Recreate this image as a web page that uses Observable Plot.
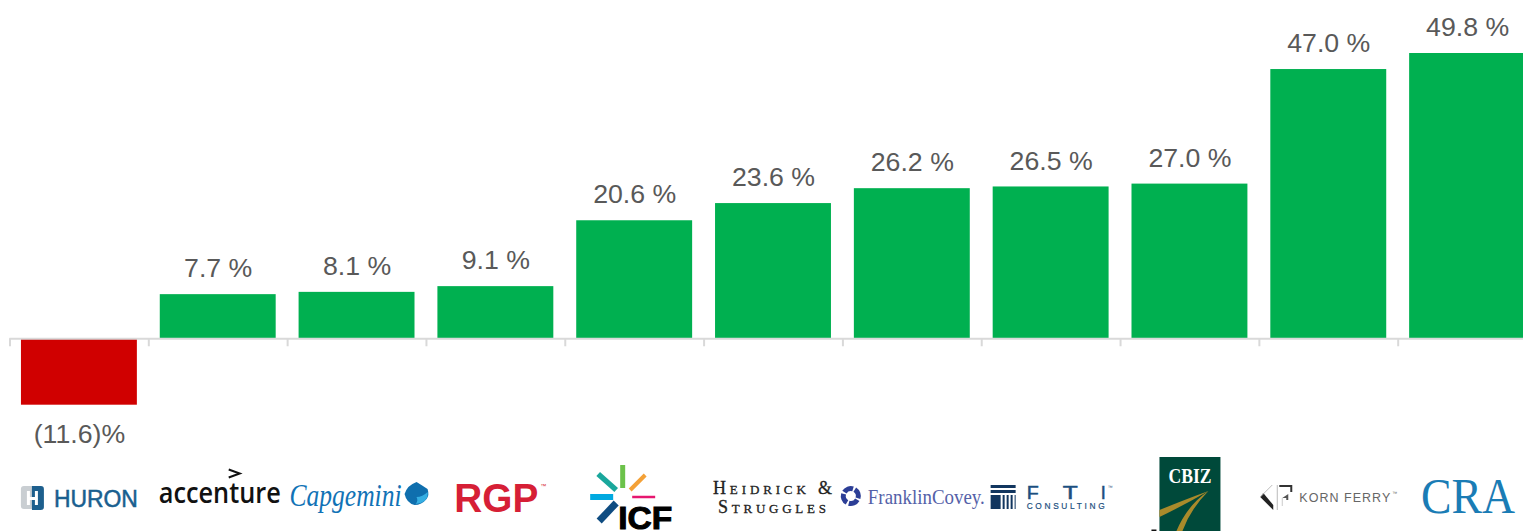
<!DOCTYPE html>
<html>
<head>
<meta charset="utf-8">
<title>Company growth comparison</title>
<script src="https://cdn.jsdelivr.net/npm/d3@7"></script>
<script src="https://cdn.jsdelivr.net/npm/@observablehq/plot@0.6"></script>
<style>
  html, body { margin: 0; padding: 0; background: #fff; overflow: hidden; }
  svg { display: block; }
</style>
</head>
<body>
<div id="chart"></div>
<script>
const companies = ["Huron", "Accenture", "Capgemini", "RGP", "ICF", "Heidrick & Struggles",
  "FranklinCovey", "FTI Consulting", "CBIZ", "Korn Ferry", "CRA"];
const growth = [-11.6, 7.7, 8.1, 9.1, 20.6, 23.6, 26.2, 26.5, 27.0, 47.0, 49.8];

const rows = companies.map((company, i) => ({company, value: growth[i]}));
const formatValue = v => v < 0 ? `(${Math.abs(v).toFixed(1)})%` : `${v.toFixed(1)} %`;

const W = 1523, H = 531;
const xRange = [9.5, 1536.5];
const slot = (xRange[1] - xRange[0]) / companies.length;
const axisColor = "#d9d9d9";
const labelSize = 26.7;
const SANS = "Liberation Sans, Arial, sans-serif";
const SERIF = "Liberation Serif, Times New Roman, serif";

// Small drawing helpers for the company wordmarks under the axis.
function word(g, str, x, y, size, fill, length, opts = {}) {
  const t = g.append("text").attr("x", x).attr("y", y).attr("fill", fill)
    .attr("text-anchor", "start")
    .attr("font-family", opts.family || SANS).attr("font-size", size)
    .attr("font-weight", opts.weight || 400).attr("font-style", opts.style || "normal")
    .text(str);
  if (length) t.attr("textLength", length).attr("lengthAdjust", opts.adjust || "spacingAndGlyphs");
  if (opts.variant) t.attr("font-variant", opts.variant);
  if (opts.stroke) t.attr("stroke", fill).attr("stroke-width", opts.stroke);
  return t;
}
const shape = (g, d, fill, extra = {}) => {
  const p = g.append("path").attr("d", d).attr("fill", fill);
  for (const k in extra) p.attr(k, extra[k]);
  return p;
};

const logos = {
  "Huron": g => {
    shape(g, "M-58 489q0-3 3-3h9v23h-9q-3 0-3-3z", "#c9ced2");
    shape(g, "M-47 486h9q3 0 3 3v18q0 3-3 3h-9z", "#1d5f8d");
    shape(g, "M-52 491h3v6h5v-6h3v14h-3v-5h-5v5h-3z", "#fff");
    word(g, "HURON", -25, 507, 23.5, "#1a5f8f", 84, {stroke: 0.5});
  },
  "Accenture": g => {
    word(g, "accenture", -59, 503, 29, "#111", 122, {family: "Open Sans", weight: 600});
    shape(g, "M11 469.5l11 4-11 4", "none", {stroke: "#111", "stroke-width": 2});
  },
  "Capgemini": g => {
    word(g, "Capgemini", -67, 506, 31, "#1173b6", 112, {family: SERIF, style: "italic"});
    shape(g, "M48 494q3-9 12-12 5 3 11 7 2 6-1 10-5 6-12 6-8-2-10-11z", "#0f6fae");
    shape(g, "M60 497q6 0 11-5 1 5-3 9-4 3-9 3 3-3 1-7z", "#35aee2");
  },
  "RGP": g => {
    word(g, "RGP", -41, 512, 41, "#d61f36", 84, {weight: 700});
    word(g, "™", 45, 488, 6, "#d61f36");
  },
  "ICF": g => {
    const ray = (d, c, w) => shape(g, d, "none", {stroke: c, "stroke-width": w});
    ray("M-11.5 465v23", "#6cc24a", 5);
    ray("M-36 474l18 16", "#1aa79c", 5.5);
    ray("M11 475l-15 15", "#f4a137", 4);
    ray("M-44 497h23", "#00a9e0", 6);
    ray("M-2 497h23", "#e6176f", 2.5);
    ray("M-35 521l17-18", "#0f4c81", 7);
    word(g, "ICF", -16, 529, 31, "#000", 54, {weight: 700, stroke: 1});
  },
  "Heidrick & Struggles": g => {
    word(g, "Heidrick &", -60, 494, 18, "#222", 119,
      {family: SERIF, variant: "small-caps", adjust: "spacing", stroke: 0.3});
    word(g, "Struggles", -55, 513, 18, "#222", 108,
      {family: SERIF, variant: "small-caps", adjust: "spacing", stroke: 0.3});
  },
  "FranklinCovey": g => {
    g.append("circle").attr("cx", -61).attr("cy", 496).attr("r", 7.5)
      .attr("fill", "none").attr("stroke", "#2c3e96").attr("stroke-width", 5)
      .attr("stroke-dasharray", "9.8 2").attr("transform", "rotate(30 -61 496)");
    word(g, "FranklinCovey.", -44, 504, 21, "#5461a8", 117, {family: SERIF});
  },
  "FTI Consulting": g => {
    const navy = "#12365f";
    shape(g, "M-60 485h25v3h-25zM-60 490h25v3h-25zM-60 495h10v14h-10zM-48 495h2v14h-2zM-44 495h2v14h-2zM-40 495h2v14h-2zM-36 495h1v14h-1z", navy);
    word(g, "F", -24, 499, 18, "#1c4f80", 12, {stroke: 0.5});
    word(g, "T", 12, 499, 18, "#1c4f80", 15, {stroke: 0.5});
    word(g, "I", 50, 499, 18, "#1c4f80", 5, {stroke: 0.5});
    word(g, "CONSULTING", -24, 509, 8.3, "#1c4f80", 78, {adjust: "spacing", stroke: 0.2});
    word(g, "™", 57, 489, 5, "#1c4f80");
  },
  "CBIZ": g => {
    shape(g, "M-38 529.5h5v1.5h-5z", "#111");
    shape(g, "M-30 457h61v74h-61z", "#00493a");
    word(g, "CBIZ", -21, 483, 22, "#fff", 43, {family: SERIF, weight: 700});
    shape(g, "M19 491q-22 8-49 19v7q25-12 49-26z", "#a98a2b");
    shape(g, "M19 491q-21 14-32 40h6q8-22 26-40z", "#a98a2b");
  },
  "Korn Ferry": g => {
    shape(g, "M-68 497l3-4 10 12v5z", "#222");
    shape(g, "M-68 497l12-12", "none", {stroke: "#bbb", "stroke-width": 1});
    shape(g, "M-51 485v25", "none", {stroke: "#bbb", "stroke-width": 1});
    shape(g, "M-49 485h13v7h-2v-5h-11z", "#333");
    shape(g, "M-46 498l6-4v6h-2v-2z", "#555");
    shape(g, "M-46 498v8", "none", {stroke: "#ccc", "stroke-width": 1});
    word(g, "KORN FERRY", -29, 502, 12.5, "#666", 91, {adjust: "spacing"});
    word(g, "™", 64, 495, 5, "#666");
  },
  "CRA": g => {
    word(g, "CRA", -46, 513, 50, "#1a7cb5", 94, {family: SERIF});
  }
};

// Custom mark: each wordmark sits on the centre of its company's band.
const logoMark = (index, {x}) => {
  const root = d3.create("svg:g");
  for (const name of companies) {
    const g = root.append("g").attr("transform", `translate(${x(name) + x.bandwidth() / 2},0)`);
    logos[name](g);
  }
  return root.node();
};

const chart = Plot.plot({
  width: W,
  height: H,
  margin: 0,
  x: {domain: companies, range: xRange, paddingInner: 0.165, paddingOuter: 0.0825, round: false, axis: null},
  y: {domain: [-11.6, 49.8], range: [404.7, 53], axis: null},
  color: {domain: [false, true], range: ["#d00000", "#00b050"]},
  style: {background: "#fff"},
  marks: [
    Plot.barY(rows, {x: "company", y: "value", fill: d => d.value >= 0}),
    Plot.ruleY([0], {insetLeft: xRange[0], stroke: axisColor, strokeWidth: 2}),
    Plot.ruleX(companies, {x: d => d, y1: 0, y2: -1.4, stroke: axisColor, strokeWidth: 2, dx: -slot / 2}),
    Plot.text(rows.filter(d => d.value >= 0), {x: "company", y: "value", text: d => formatValue(d.value),
      dy: -26, fontSize: labelSize, fontFamily: SANS, fill: "#595959"}),
    Plot.text(rows.filter(d => d.value < 0), {x: "company", y: "value", text: d => formatValue(d.value),
      dy: 29, fontSize: labelSize, fontFamily: SANS, fill: "#595959"}),
    logoMark
  ]
});
document.getElementById("chart").append(chart);
</script>
</body>
</html>
